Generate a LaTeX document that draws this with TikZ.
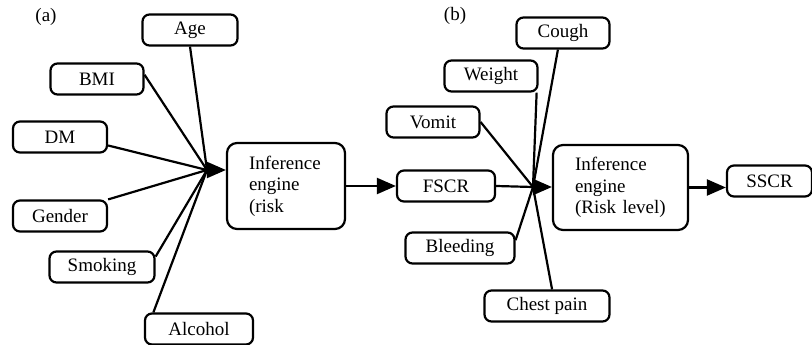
\documentclass[tikz,border=0pt]{standalone}
\usepackage{fontspec}
\setmainfont{Liberation Serif}
\usetikzlibrary{arrows.meta}
\begin{document}
\begin{tikzpicture}[
  x = 1pt, y = -1pt,
  line width = 2.2pt,
  font = \fontsize{19}{21.5}\selectfont,
  factor/.style = {draw, rounded corners=7pt, minimum height=31pt, inner sep=0pt},
  engine/.style = {draw, rounded corners=10pt, align=left, inner xsep=0pt},
  flow/.style = {-{Triangle[length=19pt, width=16pt]}}]
\useasboundingbox (0,0) rectangle (812,345);
\node (taga) at (46,17) {(a)};
\node (tagb) at (455,16) {(b)};
\node[factor, minimum width=95pt] (age) at (190,30) {Age};
\node[factor, minimum width=93pt] (bmi) at (97,79) {BMI};
\node[factor, minimum width=94pt] (dm) at (60,137) {DM};
\node[factor, minimum width=94pt] (gender) at (60,216) {Gender};
\node[factor, minimum width=105pt] (smoking) at (102,267) {Smoking};
\node[factor, minimum width=108pt] (alcohol) at (199,329) {Alcohol};
\node[engine, minimum width=118pt, minimum height=86pt, text width=74pt] (infa) at (286,186)
  {Inference\\engine\\(risk};
\node[factor, minimum width=98pt] (fscr) at (446,186) {FSCR};
\node[factor, minimum width=93pt] (cough) at (563,33) {Cough};
\node[factor, minimum width=93pt] (weight) at (491,76) {Weight};
\node[factor, minimum width=93pt] (vomit) at (433,122) {Vomit};
\node[factor, minimum width=109pt] (bleeding) at (460,248) {Bleeding};
\node[factor, minimum width=125pt] (chestpain) at (547,306) {Chest pain};
\node[engine, minimum width=135pt, minimum height=85pt, text width=91pt] (infb) at (620.5,187.5)
  {Inference\\engine\\(Risk level)};
\node[factor, minimum width=85pt] (sscr) at (769.5,181) {SSCR};
\coordinate (ja) at (207,170);
\coordinate (jb) at (533,187);
\draw (age.south) -- (ja);
\draw (bmi.5) -- (ja);
\draw (dm.-10) -- (ja);
\draw (gender.19) -- (ja);
\draw (smoking.11) -- (ja);
\draw (alcohol.160) -- (ja);
\draw[flow] (ja) -- (ja -| infa.west);
\draw[flow] (infa.east) -- (fscr.west);
\draw (cough.253) -- (jb);
\draw (weight.-20) -- (jb);
\draw (vomit.east) -- (jb);
\draw (fscr.east) -- (jb);
\draw (bleeding.8) -- (jb);
\draw (chestpain.73) -- (jb);
\draw[flow] (jb) -- (jb -| infb.west);
\draw[flow] (infb.east) -- (infb.east -| sscr.west);
\end{tikzpicture}
\end{document}
